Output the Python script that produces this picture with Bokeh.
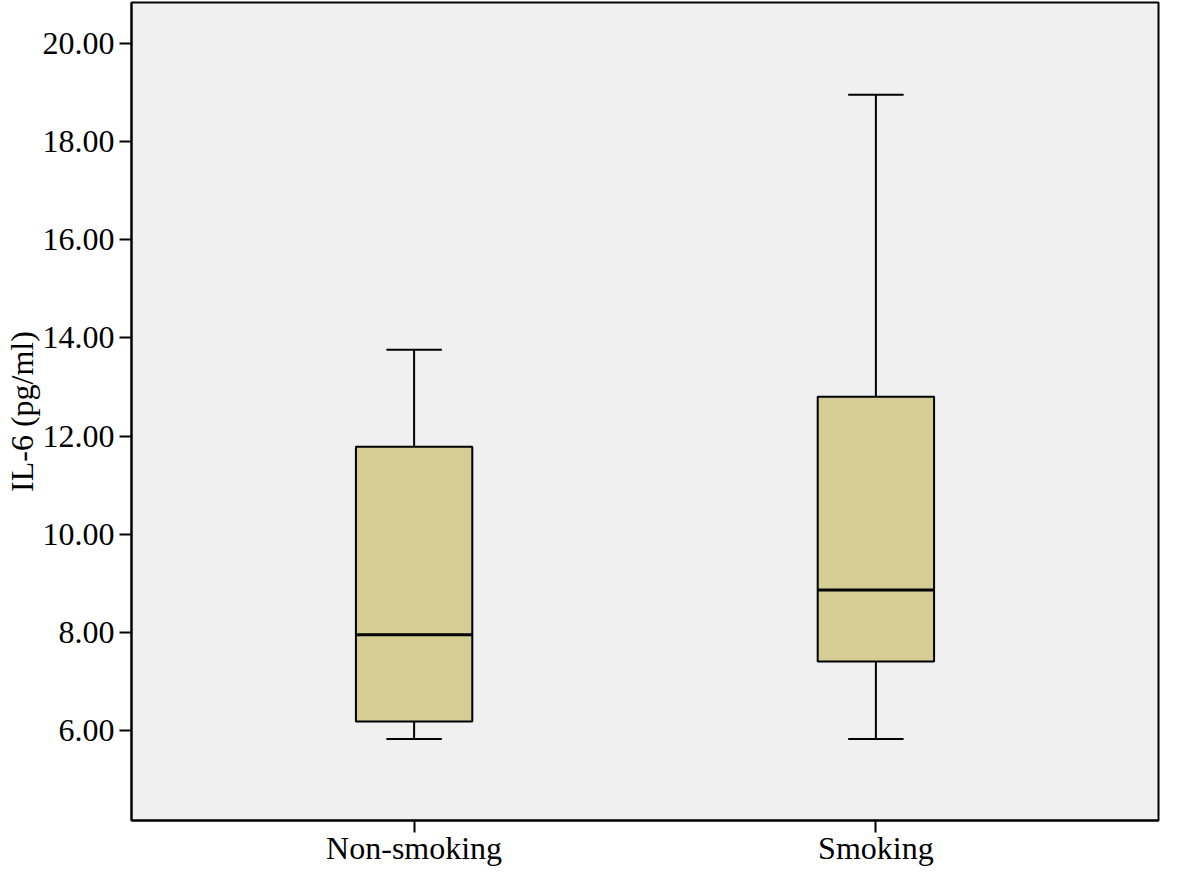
from bokeh.plotting import figure
from bokeh.models import FactorRange, Range1d, FixedTicker, NumeralTickFormatter, ColumnDataSource
from bokeh.transform import dodge
from bokeh.embed import file_html
from bokeh.resources import INLINE

categories = ["Non-smoking", "Smoking"]
whisker_low = [5.82, 5.82]
q1 = [6.18, 7.40]
median = [7.95, 8.86]
q3 = [11.78, 12.80]
whisker_high = [13.76, 18.96]
y_ticks = [6, 8, 10, 12, 14, 16, 18, 20]

BOX_W = 0.252
CAP_W = 0.12
FONT = "Liberation Serif"

src = ColumnDataSource(dict(cat=categories, low=whisker_low, q1=q1, med=median, q3=q3, high=whisker_high))

p = figure(width=1160, height=868, output_backend="svg", toolbar_location=None,
           x_range=FactorRange(*categories, range_padding=0.112, range_padding_units="absolute"),
           y_range=Range1d(4.16, 20.84),
           min_border_left=120, min_border_right=2, min_border_top=2, min_border_bottom=30)

p.background_fill_color = "#f0f0f0"
p.border_fill_color = "white"
p.outline_line_color = "black"
p.outline_line_width = 2
p.xgrid.visible = False
p.ygrid.visible = False

# stems
p.segment(x0="cat", x1="cat", y0="q3", y1="high", source=src, line_color="black", line_width=2)
p.segment(x0="cat", x1="cat", y0="low", y1="q1", source=src, line_color="black", line_width=2)
# caps
for col in ("high", "low"):
    p.segment(x0=dodge("cat", -CAP_W / 2, range=p.x_range), x1=dodge("cat", CAP_W / 2, range=p.x_range),
              y0=col, y1=col, source=src, line_color="black", line_width=2)
# boxes
p.vbar(x="cat", width=BOX_W, bottom="q1", top="q3", source=src,
       fill_color="#d6cd95", line_color="black", line_width=2)
# median
p.segment(x0=dodge("cat", -BOX_W / 2, range=p.x_range), x1=dodge("cat", BOX_W / 2, range=p.x_range),
          y0="med", y1="med", source=src, line_color="black", line_width=3)

for ax in (p.xaxis[0], p.yaxis[0]):
    ax.axis_line_width = 2
    ax.axis_line_color = "black"
    ax.major_tick_line_width = 2
    ax.major_tick_line_color = "black"
    ax.major_tick_out = 12
    ax.major_tick_in = 0
    ax.minor_tick_line_color = None
    ax.major_label_text_font = FONT
    ax.major_label_text_font_size = "32px"
    ax.major_label_text_color = "black"
    ax.axis_label_text_font = FONT
    ax.axis_label_text_font_size = "32px"
    ax.axis_label_text_font_style = "normal"
    ax.axis_label_text_color = "black"

p.yaxis.ticker = FixedTicker(ticks=y_ticks)
p.yaxis.formatter = NumeralTickFormatter(format="0.00")
p.yaxis.axis_label = "IL-6 (pg/ml)"
p.yaxis.major_label_standoff = 5
p.yaxis.axis_label_standoff = 0
p.xaxis.major_label_standoff = -3

open("out.html", "w").write(file_html(p, INLINE))
